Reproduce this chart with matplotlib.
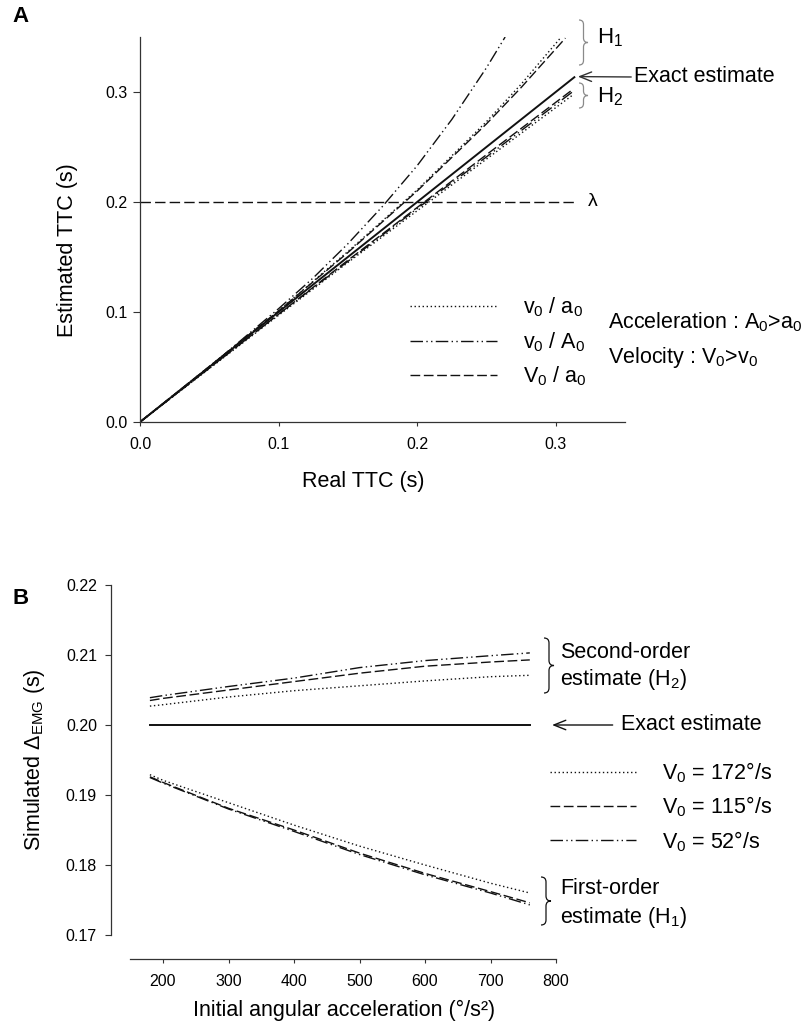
import matplotlib
matplotlib.use("Agg")
import matplotlib.pyplot as plt
from matplotlib.path import Path
from matplotlib.patches import PathPatch

plt.rcParams['font.family'] = ['Liberation Sans', 'DejaVu Sans']
plt.rcParams['mathtext.fontset'] = 'custom'
plt.rcParams['mathtext.rm'] = 'Liberation Sans'
plt.rcParams['mathtext.it'] = 'Liberation Sans:italic'
plt.rcParams['mathtext.bf'] = 'Liberation Sans:bold'
plt.rcParams['mathtext.default'] = 'regular'

# ---------------- Panel A data: estimated vs real time-to-contact ----------------
real_ttc_exact = [0.0, 0.314]
est_ttc_exact = [0.0, 0.314]

lambda_x = [0.0, 0.313]
lambda_y = [0.2, 0.2]

# first-order estimates (H1)
h1_vA_x = [0.0, 0.05, 0.10, 0.125, 0.15, 0.175, 0.20, 0.225, 0.25, 0.2635]
h1_vA_y = [0.0, 0.050, 0.103, 0.131, 0.162, 0.196, 0.233, 0.275, 0.322, 0.350]
h1_Va_x = [0.0, 0.10, 0.15, 0.20, 0.25, 0.275, 0.307]
h1_Va_y = [0.0, 0.101, 0.154, 0.210, 0.271, 0.304, 0.349]
h1_va_x = [0.0, 0.10, 0.15, 0.20, 0.25, 0.275, 0.304]
h1_va_y = [0.0, 0.101, 0.155, 0.211, 0.273, 0.307, 0.350]

# second-order estimates (H2)
h2_x = [0.0, 0.10, 0.15, 0.20, 0.25, 0.312]
h2_Va_y = [0.0, 0.098, 0.147, 0.195, 0.243, 0.302]
h2_vA_y = [0.0, 0.098, 0.146, 0.194, 0.241, 0.300]
h2_va_y = [0.0, 0.097, 0.145, 0.192, 0.239, 0.297]

ticks_a = [0.0, 0.1, 0.2, 0.3]
tick_labels_a = ['0.0', '0.1', '0.2', '0.3']

# ---------------- Panel B data: simulated Delta_EMG vs initial acceleration ----------------
accel = [180, 200, 300, 400, 500, 600, 700, 760]
exact_accel = [180, 760]
exact_delta = [0.200, 0.200]

h2_v172 = [0.2027, 0.2029, 0.2040, 0.2049, 0.2056, 0.2063, 0.2069, 0.2071]
h2_v115 = [0.2035, 0.2038, 0.2050, 0.2062, 0.2074, 0.2084, 0.2090, 0.2093]
h2_v52 = [0.2039, 0.2042, 0.2055, 0.2067, 0.2082, 0.2092, 0.2099, 0.2103]

h1_v172 = [0.1929, 0.1921, 0.1889, 0.1857, 0.1827, 0.1800, 0.1774, 0.1760]
h1_v115 = [0.1926, 0.1918, 0.1881, 0.1850, 0.1817, 0.1788, 0.1762, 0.1746]
h1_v52 = [0.1925, 0.1917, 0.1880, 0.1848, 0.1815, 0.1786, 0.1760, 0.1743]

xticks_b = [200, 300, 400, 500, 600, 700, 800]
yticks_b = [0.17, 0.18, 0.19, 0.20, 0.21, 0.22]

# ---------------- styles ----------------
INK = '#111111'
AX = '#333333'
DOT = (0, (1.0, 1.9))
DASH = (0, (7.0, 2.6))
DDOT = (0, (9.0, 2.4, 1.0, 2.4, 1.0, 2.4))
LBL = 15.5
TCK = 11.5

W, H = 809, 1027
fig = plt.figure(figsize=(W / 100, H / 100), dpi=100)


def fx(px):
    return px / W


def fy(py):
    return 1 - py / H


def brace(x0, yt, yb, w, color, lw):
    """Right-pointing curly brace in figure pixel coordinates (y down)."""
    ym = (yt + yb) / 2
    r = w / 2
    xm = x0 + w / 2
    pts = [(x0, yt), (xm, yt), (xm, yt + r), (xm, ym - r), (xm, ym), (x0 + w, ym),
           (xm, ym), (xm, ym + r), (xm, yb - r), (xm, yb), (x0, yb)]
    codes = [Path.MOVETO, Path.CURVE3, Path.CURVE3, Path.LINETO, Path.CURVE3, Path.CURVE3,
             Path.CURVE3, Path.CURVE3, Path.LINETO, Path.CURVE3, Path.CURVE3]
    verts = [(fx(a), fy(b)) for a, b in pts]
    fig.patches.append(PathPatch(Path(verts, codes), fill=False, edgecolor=color, lw=lw,
                                 transform=fig.transFigure, figure=fig))


def style_axes(ax):
    for s in ('top', 'right'):
        ax.spines[s].set_visible(False)
    for s in ('left', 'bottom'):
        ax.spines[s].set_color(AX)
        ax.spines[s].set_linewidth(0.9)
    ax.tick_params(colors=AX, labelcolor='black', labelsize=TCK, width=0.8)
    ax.set_facecolor('none')


# ================= Panel A =================
axA = fig.add_axes([fx(140), fy(422), (625 - 140) / W, (422 - 37) / H])
style_axes(axA)
axA.set_xlim(0, 0.35)
axA.set_ylim(0, 0.35)

axA.plot(lambda_x, lambda_y, color=INK, lw=1.0, ls=(0, (7.5, 3.0)))
axA.plot(h1_vA_x, h1_vA_y, color=INK, lw=1.0, ls=DDOT)
axA.plot(h1_Va_x, h1_Va_y, color=INK, lw=1.0, ls=DASH)
axA.plot(h1_va_x, h1_va_y, color=INK, lw=1.0, ls=DOT)
lA_dot, = axA.plot(h2_x, h2_va_y, color=INK, lw=1.0, ls=DOT, label='v$_0$ / a$_0$')
lA_ddot, = axA.plot(h2_x, h2_vA_y, color=INK, lw=1.0, ls=DDOT, label='v$_0$ / A$_0$')
lA_dash, = axA.plot(h2_x, h2_Va_y, color=INK, lw=1.0, ls=DASH, label='V$_0$ / a$_0$')
axA.plot(real_ttc_exact, est_ttc_exact, color=INK, lw=1.4, solid_capstyle='butt')

axA.set_xticks(ticks_a)
axA.set_xticklabels(tick_labels_a)
axA.set_yticks(ticks_a)
axA.set_yticklabels(tick_labels_a)
axA.tick_params(axis='y', length=5, pad=4)
axA.tick_params(axis='x', length=3, pad=8)

axA.set_xlabel('Real TTC (s)', fontsize=LBL)
axA.xaxis.set_label_coords((363 - 140) / 485, -(481 - 422) / 385)
axA.xaxis.label.set_va('center')
axA.set_ylabel('Estimated TTC (s)', fontsize=LBL)
axA.yaxis.set_label_coords((68 - 140) / 485, (422 - 250) / 385)
axA.yaxis.label.set_va('center')

legA = axA.legend(handles=[lA_dot, lA_ddot, lA_dash], loc='center left',
                  bbox_to_anchor=((410 - 140) / 485, (422 - 342) / 385),
                  frameon=False, fontsize=LBL, handlelength=4.05, handletextpad=1.2,
                  labelspacing=0.5, borderpad=0, borderaxespad=0)

fig.text(fx(608), fy(322), 'Acceleration : A$_0$>a$_0$', fontsize=LBL, va='center', ha='left')
fig.text(fx(608), fy(357), 'Velocity : V$_0$>v$_0$', fontsize=LBL, va='center', ha='left')
fig.text(fx(588), fy(202), 'λ', fontsize=14, va='center', ha='left')

brace(579, 20, 65, 9, '#8a8a8a', 0.9)
brace(579, 83, 108, 9, '#8a8a8a', 0.9)
fig.text(fx(597), fy(38), 'H$_1$', fontsize=16, va='center', ha='left')
fig.text(fx(597), fy(97), 'H$_2$', fontsize=16, va='center', ha='left')

axA.annotate('Exact estimate', xy=(0.316, 0.314), xycoords='data',
             xytext=(fx(634), fy(77)), textcoords='figure fraction',
             fontsize=LBL, va='center', ha='left', annotation_clip=False,
             arrowprops=dict(arrowstyle='->,head_length=0.55,head_width=0.22', lw=1.0,
                             color='#333333', shrinkA=0, shrinkB=0, relpos=(0, 0.5)))

fig.text(fx(12), fy(16), 'A', fontsize=16, fontweight='bold', va='center', ha='left')

# ================= Panel B =================
axB = fig.add_axes([fx(130.25), fy(935), 425.75 / W, 350 / H])
style_axes(axB)
axB.set_xlim(150, 800)
axB.set_ylim(0.17, 0.22)
axB.spines['left'].set_position(('outward', 14))
axB.spines['bottom'].set_position(('outward', 17))

axB.plot(exact_accel, exact_delta, color=INK, lw=1.4)
lB_dot, = axB.plot(accel, h2_v172, color=INK, lw=1.0, ls=DOT, label='V$_0$ = 172°/s')
lB_dash, = axB.plot(accel, h2_v115, color=INK, lw=1.0, ls=DASH, label='V$_0$ = 115°/s')
lB_ddot, = axB.plot(accel, h2_v52, color=INK, lw=1.0, ls=DDOT, label='V$_0$ = 52°/s')
axB.plot(accel, h1_v172, color=INK, lw=1.0, ls=DOT)
axB.plot(accel, h1_v115, color=INK, lw=1.0, ls=DASH)
axB.plot(accel, h1_v52, color=INK, lw=1.0, ls=DDOT)

axB.set_xticks(xticks_b)
axB.set_yticks(yticks_b)
axB.set_yticklabels([f'{v:.2f}' for v in yticks_b])
axB.tick_params(axis='y', length=4, pad=6)
axB.tick_params(axis='x', length=3, pad=8)

axB.set_xlabel('Initial angular acceleration (°/s²)', fontsize=LBL)
axB.xaxis.set_label_coords((344 - 130.25) / 425.75, -(1010 - 935) / 350)
axB.xaxis.label.set_va('center')
axB.set_ylabel('Simulated Δ$_{EMG}$ (s)', fontsize=LBL)
axB.yaxis.set_label_coords((35 - 130.25) / 425.75, (935 - 760) / 350)
axB.yaxis.label.set_va('center')

legB = axB.legend(handles=[lB_dot, lB_dash, lB_ddot], loc='center left',
                  bbox_to_anchor=((550 - 130.25) / 425.75, (935 - 807) / 350),
                  frameon=False, fontsize=LBL, handlelength=4.0, handletextpad=1.2,
                  labelspacing=0.45, borderpad=0, borderaxespad=0)

brace(544, 638, 693, 10, INK, 0.9)
fig.text(fx(560), fy(653), 'Second-order', fontsize=LBL, va='center', ha='left')
fig.text(fx(560), fy(680), 'estimate (H$_2$)', fontsize=LBL, va='center', ha='left')

axB.annotate('Exact estimate', xy=(794, 0.200), xycoords='data',
             xytext=(fx(621), fy(725)), textcoords='figure fraction',
             fontsize=LBL, va='center', ha='left', annotation_clip=False,
             arrowprops=dict(arrowstyle='->,head_length=0.55,head_width=0.22', lw=1.0,
                             color=INK, shrinkA=4, shrinkB=0, relpos=(0, 0.5)))

brace(541, 877, 925, 10, INK, 0.9)
fig.text(fx(560), fy(888), 'First-order', fontsize=LBL, va='center', ha='left')
fig.text(fx(560), fy(917), 'estimate (H$_1$)', fontsize=LBL, va='center', ha='left')

fig.text(fx(12), fy(598), 'B', fontsize=16, fontweight='bold', va='center', ha='left')

fig.savefig('out.png', dpi=100, facecolor='white')
